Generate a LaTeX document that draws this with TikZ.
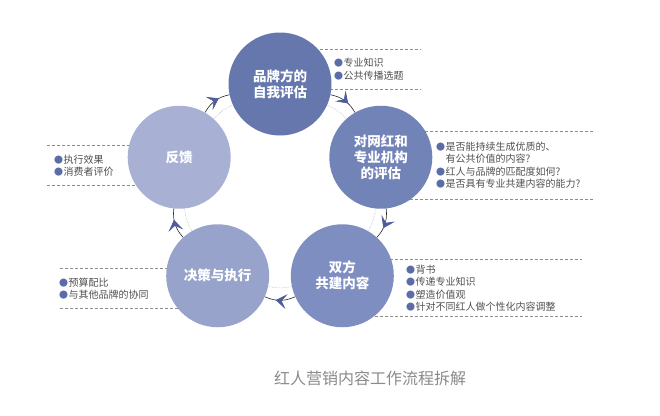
\documentclass[tikz,border=0pt]{standalone}
\usepackage{fontspec}
\setmainfont{Noto Sans CJK SC}
\usetikzlibrary{arrows.meta,decorations.markings,backgrounds}

\definecolor{stageA}{HTML}{6577AD}
\definecolor{stageB}{HTML}{7183B7}
\definecolor{stageC}{HTML}{7E8EC0}
\definecolor{stageD}{HTML}{97A3CB}
\definecolor{stageE}{HTML}{A8B1D4}
\definecolor{dotblue}{HTML}{5B6CA7}
\definecolor{flowblue}{HTML}{4D5D9C}
\definecolor{notegray}{HTML}{505050}
\definecolor{titlegray}{HTML}{8A8A8A}

% bullet and indent for the note lists
\newcommand{\itm}{\makebox[9.5pt][l]{\textcolor{dotblue}{\fontsize{9}{9}\selectfont ●}}}
\newcommand{\cnt}{\hspace*{9.5pt}}

\begin{document}
\begin{tikzpicture}[
    x=1pt, y=1pt,
    stage/.style={circle,minimum size=103pt,inner sep=0pt,text=white,align=center,
      font=\fontsize{13.5}{16}\selectfont\bfseries},
    notes/.style={anchor=west,inner sep=0pt,align=left,text=notegray,
      font=\fontsize{10}{12.5}\selectfont},
    rule/.style={dashed,dash pattern=on 3pt off 2pt,black!45,line width=0.5pt},
    guide/.style={black!35,densely dotted,line width=0.5pt},
    flow/.style={black!85,line width=0.6pt,postaction={decorate},
      decoration={markings,mark=at position 0.64 with
        {\arrow{Stealth[length=11pt,width=15pt,inset=5pt,color=flowblue]}}}}
  ]
  \useasboundingbox (0,0) rectangle (660,-415);
  \coordinate (ctr) at (280,-190);

  % Draw the five stages.
  \node[stage,fill=stageA] (brand)    at ([shift={(90:106)}]ctr)   {品牌方的\\自我评估};
  \node[stage,fill=stageB] (expert)   at ([shift={(18:106)}]ctr)   {对网红和\\专业机构\\的评估};
  \node[stage,fill=stageC] (cocreate) at ([shift={(-54:106)}]ctr)  {双方\\共建内容};
  \node[stage,fill=stageD] (decide)   at ([shift={(-126:106)}]ctr) {决策与执行};
  \node[stage,fill=stageE] (feedback) at ([shift={(162:106)}]ctr)  {反馈};

  % Draw the cycle.
  \foreach \a/\b in {brand/expert,expert/cocreate,cocreate/decide,decide/feedback,feedback/brand}{
    \draw[guide] (\a) to[bend left=12] (\b);
    \draw[flow] (\a) to[bend left=24] (\b);
  }

  % Draw the notes.
  \node[notes] (brandnote) at (334,-69) {\itm 专业知识\\\itm 公共传播选题};
  \node[notes] (expertnote) at (436,-165) {\itm 是否能持续生成优质的、\\\cnt 有公共价值的内容?\\
    \itm 红人与品牌的匹配度如何?\\\itm 是否具有专业共建内容的能力?};
  \node[notes] (cocreatenote) at (406,-288) {\itm 背书\\\itm 传递专业知识\\\itm 塑造价值观\\
    \itm 针对不同红人做个性化内容调整};
  \node[notes] (feedbacknote) at (54,-165.5) {\itm 执行效果\\\itm 消费者评价};
  \node[notes] (decidenote) at (59,-288.5) {\itm 预算配比\\\itm 与其他品牌的协同};

  % Draw the rules round the notes.
  \begin{scope}[on background layer]
    \draw[rule] (300,-49) -- (421,-49);
    \draw[rule] (300,-89) -- (421,-89);
    \draw[rule] (400,-131.7) -- (593,-131.7);
    \draw[rule] (400,-199) -- (593,-199);
    \draw[rule] (370,-259) -- (582,-259);
    \draw[rule] (370,-316) -- (582,-316);
    \draw[rule] (47,-145) -- (150,-145);
    \draw[rule] (47,-185) -- (150,-185);
    \draw[rule] (60,-268) -- (195,-268);
    \draw[rule] (60,-308) -- (195,-308);
  \end{scope}

  \node[text=titlegray,font=\fontsize{16}{16}\selectfont] (title) at (370,-378) {红人营销内容工作流程拆解};
\end{tikzpicture}
\end{document}
